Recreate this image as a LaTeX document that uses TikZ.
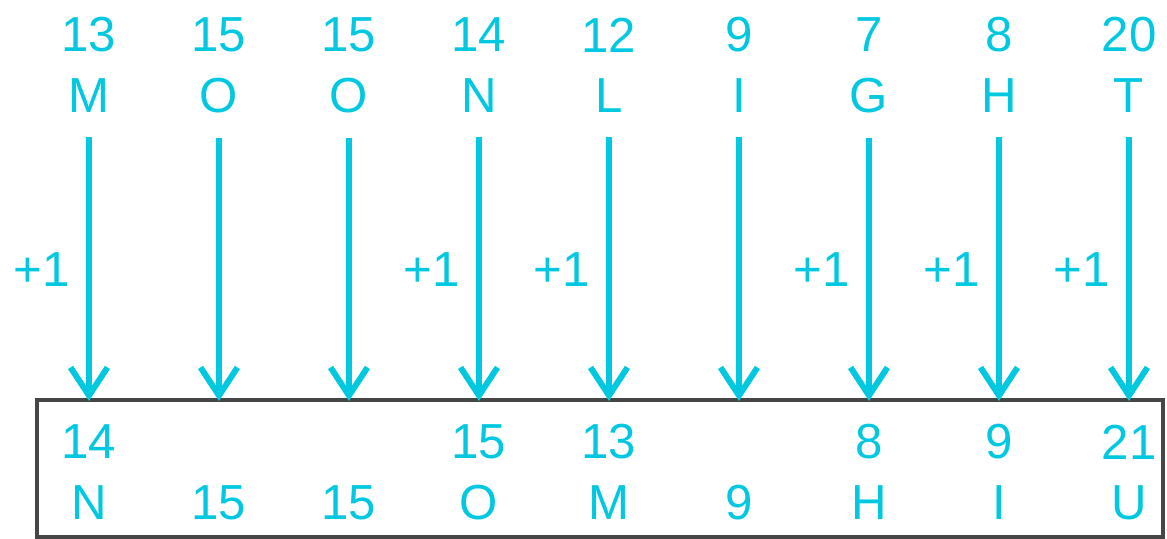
\documentclass[tikz,border=0pt]{standalone}
\usepackage{fontspec}
\setmainfont{Liberation Sans}
\usetikzlibrary{arrows.meta,positioning}
\definecolor{cyanline}{RGB}{0,200,224}
\definecolor{boxgray}{RGB}{70,70,70}

\begin{document}
\begin{tikzpicture}[x=0.02cm,y=-0.02cm,
    every node/.style={text=cyanline,font=\fontsize{28}{30}\selectfont,inner sep=0pt},
    down/.style={cyanline,line width=3.4pt,-{Straight Barb[length=16pt,width=21pt,line width=3.4pt]}}]
        \useasboundingbox (0,0) rectangle (1167,538);
        % result box
        \draw[boxgray,line width=2.3pt] (37,400) rectangle (1163,537);
        \foreach \i/\x/\n/\l/\p/\m/\r in {1/89/13/M/+1/14/N, 2/219/15/O//{}/15, 3/349/15/O//{}/15,
            4/479/14/N/+1/15/O, 5/609/12/L/+1/13/M, 6/739/9/I//{}/9, 7/869/7/G/+1/8/H,
            8/999/8/H/+1/9/I, 9/1129/20/T/+1/21/U}{
            \node (num\i) at (\x,35) {\n};
            \node (let\i) at (\x,96) {\l};
            \node (plus\i) at (\x-47,270) {\p};
            \node (rnum\i) at (\x,442) {\m};
            \node (rlet\i) at (\x,503) {\r};
            \coordinate (tip\i) at (\x,401);
            \draw[down] (let\i.south) ++(0,24) coordinate (top\i) -- (tip\i);
        }
\end{tikzpicture}
\end{document}
